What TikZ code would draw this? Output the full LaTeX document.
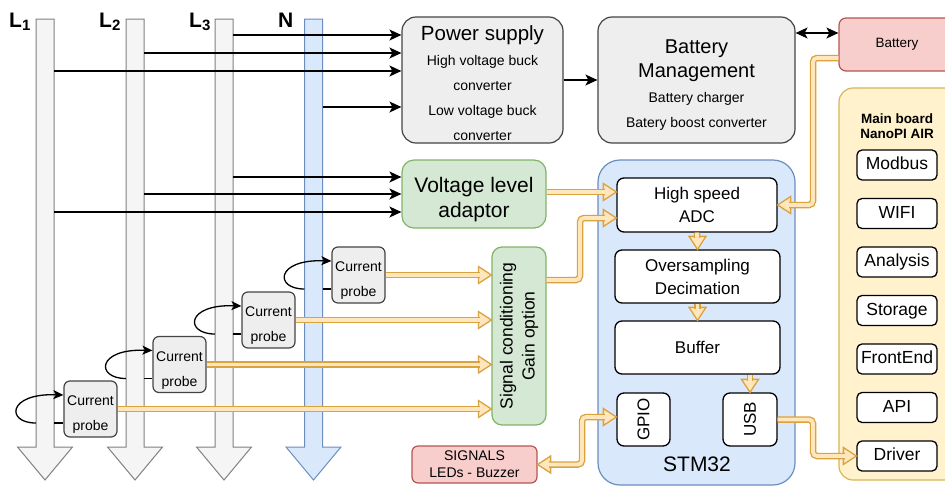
\documentclass[tikz,border=0pt]{standalone}
\usepackage{fontspec}
\setmainfont{Liberation Sans}
\usetikzlibrary{arrows.meta}
\definecolor{busfill}{HTML}{F5F5F5}
\definecolor{busline}{HTML}{808080}
\definecolor{nfill}{HTML}{DAE8FC}
\definecolor{nline}{HTML}{6C8EBF}
\definecolor{greyfill}{HTML}{EEEEEE}
\definecolor{greyline}{HTML}{444444}
\definecolor{gfill}{HTML}{D5E8D4}
\definecolor{gline}{HTML}{82B366}
\definecolor{rfill}{HTML}{F8CECC}
\definecolor{rline}{HTML}{B85450}
\definecolor{yfill}{HTML}{FFF2CC}
\definecolor{yline}{HTML}{D6B656}
\definecolor{flexo}{HTML}{DBA240}
\definecolor{flexi}{HTML}{FFE6BC}
\newcommand\fsz[1]{\fontsize{#1}{#1}\selectfont}
\tikzset{
  box/.style={rectangle, inner sep=0pt, line width=1.2pt},
  gbox/.style={box, fill=greyfill, draw=greyline, rounded corners=14pt},
  grbox/.style={box, fill=gfill, draw=gline, rounded corners=12pt},
  rbox/.style={box, fill=rfill, draw=rline, rounded corners=7pt},
  bbox/.style={box, fill=nfill, draw=nline, rounded corners=22pt},
  ybox/.style={box, fill=yfill, draw=yline, rounded corners=14pt},
  wbox/.style={box, fill=white, draw=black, line width=1.3pt, rounded corners=7pt},
  mbox/.style={wbox, minimum width=80pt, minimum height=30pt, rounded corners=5pt, font=\fsz{17.5}, text height=12.5pt, text depth=3.5pt},
  pbox/.style={box, fill=greyfill, draw=greyline, rounded corners=6pt, minimum width=53pt, minimum height=56pt},
  txt/.style={inner sep=0pt},
  blk/.style={line width=1.3pt, -{Stealth[length=12pt,width=11pt,inset=3pt]}},
  blkboth/.style={line width=1.3pt, {Stealth[length=12pt,width=11pt,inset=3pt]}-{Stealth[length=12pt,width=11pt,inset=3pt]}},
  wire/.style={line width=1.3pt},
  loopw/.style={line width=1.3pt, -{Stealth[length=10pt,width=9pt,inset=2.5pt]}},
  flex/.style={draw=flexo, line width=1.35pt, double=flexi, double distance=3.8pt, rounded corners=4pt, shorten >=11.5pt},
  flexboth/.style={flex, shorten <=11.5pt},
  fhead/.pic={\filldraw[fill=flexi, draw=flexo, line width=1.3pt, line join=miter] (0,0) -- (-13,8.5) -- (-13,-8.5) -- cycle;},
  hidden/.style={inner sep=0pt, minimum width=18pt, minimum height=428pt},
}
\begin{document}
\begin{tikzpicture}[x=1pt,y=-1pt]
\useasboundingbox (0,0) rectangle (945,488);
% ---------- buses
\foreach \cx/\nm/\fc/\lc in {45/L1/busfill/busline, 135/L2/busfill/busline, 224/L3/busfill/busline, 313.5/N/nfill/nline}{
  \filldraw[fill=\fc, draw=\lc, line width=1pt, line join=miter]
    (\cx-9,19) -- (\cx+9,19) -- (\cx+9,447) -- (\cx+27.5,447) -- (\cx,480) -- (\cx-27.5,447) -- (\cx-9,447) -- cycle;
  \node[hidden] (\nm) at (\cx,233) {};
}
\node[txt, anchor=base west, font=\bfseries\fsz{21}] (lab1) at (9,27) {L\raisebox{-3pt}{\fsz{15}1}};
\node[txt, anchor=base west, font=\bfseries\fsz{21}] (lab2) at (99,27) {L\raisebox{-3pt}{\fsz{15}2}};
\node[txt, anchor=base west, font=\bfseries\fsz{21}] (lab3) at (189,27) {L\raisebox{-3pt}{\fsz{15}3}};
\node[txt, anchor=base west, font=\bfseries\fsz{21}] (labn) at (278,27) {N};

% ---------- power supply & battery management
\node[gbox, minimum width=161pt, minimum height=126pt] (ps) at (482.5,80) {};
\node[txt, anchor=base, font=\fsz{20.5}] (ps0) at (482.5,40) {Power supply};
\node[txt, anchor=base, font=\fsz{14}] (ps1) at (482.5,65) {High voltage buck};
\node[txt, anchor=base, font=\fsz{14}] (ps2) at (482.5,90) {converter};
\node[txt, anchor=base, font=\fsz{14}] (ps3) at (482.5,115) {Low voltage buck};
\node[txt, anchor=base, font=\fsz{14}] (ps4) at (482.5,140) {converter};

\node[gbox, minimum width=197pt, minimum height=126pt] (bm) at (696.5,80) {};
\node[txt, anchor=base, font=\fsz{20}] (bm0) at (696.5,53) {Battery};
\node[txt, anchor=base, font=\fsz{20}] (bm1) at (696.5,77) {Management};
\node[txt, anchor=base, font=\fsz{14}] (bm2) at (696.5,102) {Battery charger};
\node[txt, anchor=base, font=\fsz{14}] (bm3) at (696.5,127) {Batery boost converter};

\node[rbox, minimum width=116pt, minimum height=53pt, font=\fsz{13.5}] (bat) at (897,44.5) {Battery};

% ---------- main board
\node[ybox, minimum width=121pt, minimum height=392pt] (mb) at (899.5,284) {};
\node[txt, align=center, font=\bfseries\fontsize{13.5}{15}\selectfont] (mbt) at (897,126) {Main board\\NanoPI AIR};
\node[mbox] (m1) at (897,165) {Modbus};
\node[mbox] (m2) at (897,213.5) {WIFI};
\node[mbox] (m3) at (897,262) {Analysis};
\node[mbox] (m4) at (897,310.5) {Storage};
\node[mbox] (m5) at (897,359) {FrontEnd};
\node[mbox] (m6) at (897,407.5) {API};
\node[mbox] (drv) at (897,456) {Driver};

% ---------- STM32
\node[bbox, minimum width=197pt, minimum height=325pt] (stm) at (696.5,322.5) {};
\node[txt, anchor=base, font=\fsz{21}] (stmt) at (697,471) {STM32};
\node[wbox, minimum width=160pt, minimum height=54pt, align=center, font=\fontsize{17}{23}\selectfont] (adc) at (697,205) {High speed\\ADC};
\node[wbox, minimum width=165pt, minimum height=53pt, align=center, font=\fontsize{17}{23}\selectfont] (ovs) at (697.5,276.5) {Oversampling\\Decimation};
\node[wbox, minimum width=165pt, minimum height=53pt, font=\fsz{17}] (buf) at (697.5,347.5) {Buffer};
\node[wbox, minimum width=53pt, minimum height=53pt] (gpio) at (643.5,419.5) {};
\node[txt, rotate=90, font=\fsz{17}] (gpiot) at (gpio) {GPIO};
\node[wbox, minimum width=54pt, minimum height=53pt] (usb) at (750,419.5) {};
\node[txt, rotate=90, font=\fsz{17}] (usbt) at (usb) {USB};

% ---------- voltage adaptor, signal conditioning, signals
\node[grbox, minimum width=144pt, minimum height=68pt] (vla) at (474,194) {};
\node[txt, anchor=base, font=\fsz{21}] (vla0) at (474,192) {Voltage level};
\node[txt, anchor=base, font=\fsz{21}] (vla1) at (474,217) {adaptor};
\node[grbox, minimum width=54pt, minimum height=178pt, rounded corners=10pt] (sc) at (519,336) {};
\node[txt, rotate=90, align=center, font=\fontsize{17.5}{22}\selectfont] (sct) at (sc) {Signal conditioning\\Gain option};
\node[rbox, minimum width=125pt, minimum height=37pt, rounded corners=6pt, align=center, font=\fontsize{14}{17}\selectfont] (sig) at (474.5,464.5) {SIGNALS\\LEDs - Buzzer};

% ---------- current probes
\foreach \n/\cx/\cy in {p1/90.5/409, p2/179.5/364.5, p3/268.5/320, p4/358.5/275}{
  \node[pbox] (\n) at (\cx,\cy) {};
  \node[txt, align=center, font=\fontsize{14}{25}\selectfont] (\n-t) at (\cx,\cy+6) {Current\\probe};
}

% ---------- black connectors
\draw[blk] (L3.east |- 0,35) -- (ps.west |- 0,35);
\draw[blk] (L2.east |- 0,53) -- (ps.west |- 0,53);
\draw[blk] (L1.east |- 0,71) -- (ps.west |- 0,71);
\draw[blk] (N.east |- 0,107) -- (ps.west |- 0,107);
\draw[blk] (L3.east |- 0,177) -- (vla.west |- 0,177);
\draw[blk] (L2.east |- 0,194) -- (vla.west |- 0,194);
\draw[blk] (L1.east |- 0,212) -- (vla.west |- 0,212);
\draw[blk] (ps.east) -- (bm.west);
\draw[blkboth] (bm.east |- 0,33) -- (bat.west |- 0,33);

% probe loops
\draw[wire] (L1.east |- 0,423) -- (p1.west |- 0,423);
\draw[loopw] (L1.west |- 0,423) .. controls +(-30,0) and +(-56,-2) .. (p1.west |- 0,395);
\draw[wire] (L2.east |- 0,378.5) -- (p2.west |- 0,378.5);
\draw[loopw] (L2.west |- 0,378.5) .. controls +(-30,0) and +(-56,-2) .. (p2.west |- 0,350.5);
\draw[wire] (L3.east |- 0,334) -- (p3.west |- 0,334);
\draw[loopw] (L3.west |- 0,334) .. controls +(-30,0) and +(-56,-2) .. (p3.west |- 0,306);
\draw[wire] (N.east |- 0,289) -- (p4.west |- 0,289);
\draw[loopw] (N.west |- 0,289) .. controls +(-30,0) and +(-56,-2) .. (p4.west |- 0,261);

% ---------- flex (orange) connectors
\pic[rotate=180] at (adc.east) {fhead};
\draw[flex] (bat.west |- 0,58) -- (813,58) -- (813,205) -- (adc.east);
\pic at (adc.west |- 0,192) {fhead};
\draw[flex] (vla.east |- 0,192) -- (adc.west |- 0,192);
\pic at (adc.west |- 0,218) {fhead};
\draw[flex] (sc.east |- 0,280) -- (580,280) -- (580,218) -- (adc.west |- 0,218);
\foreach \n in {p1,p2,p3,p4}{
  \pic at (sc.west |- \n.east) {fhead};
  \draw[flex] (\n.east) -- (sc.west |- \n.east);
}
\pic[rotate=-90] at (ovs.north) {fhead};
\draw[flex] (adc.south) -- (ovs.north);
\pic[rotate=-90] at (buf.north) {fhead};
\draw[flex] (ovs.south) -- (buf.north);
\pic[rotate=-90] at (usb.north) {fhead};
\draw[flex] (buf.south -| usb.north) -- (usb.north);
\pic at (drv.west) {fhead};
\draw[flex] (usb.east) -- (813,419.5) -- (813,456) -- (drv.west);
\pic[rotate=180] at (sig.east) {fhead};
\pic at (gpio.west |- 0,417) {fhead};
\draw[flexboth] (sig.east) -- (582,464.5) -- (582,417) -- (gpio.west |- 0,417);
\end{tikzpicture}
\end{document}
